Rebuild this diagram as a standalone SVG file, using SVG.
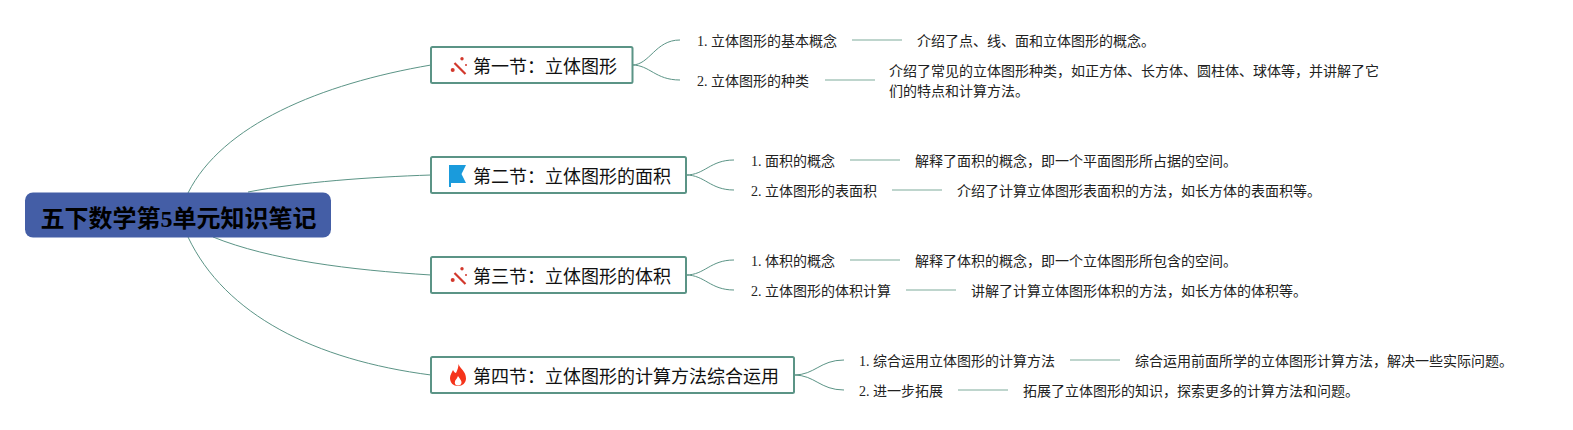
<svg xmlns="http://www.w3.org/2000/svg" width="1573" height="430" viewBox="0 0 1573 430">
<style>
text{font-family:"Liberation Serif","Noto Sans CJK SC",serif;fill:#000}
.t{font-size:18px;fill:#111}
.s{font-size:14px;fill:#222}
.box{fill:#fff;stroke:#5b9486;stroke-width:2}
.c{fill:none;stroke:#5b9486;stroke-width:1}
.l{fill:none;stroke:#a9c7bd;stroke-width:1.5}
.w{fill:#d2382c}
.wl{stroke:#d2382c;stroke-width:2.200;fill:none}
</style>
<defs>
<g id="wand"><path class="wl" d="M454.500 63L465.500 74"/><circle class="w" cx="452.700" cy="70" r="2"/><circle class="w" cx="462" cy="58.700" r="1.700"/><circle class="w" cx="466" cy="65" r="1"/></g>
</defs>
<rect width="1573" height="430" fill="#fff"/>
<g id="connectors">
<path class="c" d="M188 193C222 125 320 84 431 65"/>
<path class="c" d="M248 192C300 182 370 177 431 175"/>
<path class="c" d="M213 237C270 260 350 270 431 275"/>
<path class="c" d="M188 237C225 315 315 360 431 375"/>
<path class="c" d="M632 65C650 65 655 40 680 40"/>
<path class="c" d="M632 65C650 65 655 80 680 80"/>
<path class="c" d="M686 175C705 175 710 160 734 160"/>
<path class="c" d="M686 175C705 175 710 190 734 190"/>
<path class="c" d="M686 275C705 275 710 260 734 260"/>
<path class="c" d="M686 275C705 275 710 290 734 290"/>
<path class="c" d="M794 375C815 375 820 360 844 360"/>
<path class="c" d="M794 375C815 375 820 390 844 390"/>
<path class="l" d="M852 40H902M825 80H875M850 160H900M892 190H942M850 260H900M906 290H956M1070 360H1120M958 390H1008"/>
</g>
<g id="root"><rect x="25" y="192.500" width="306" height="45" rx="8" fill="#445ea6"/><text x="40.500" y="227" font-size="24" font-weight="700">五下数学第5单元知识笔记</text></g>
<g id="topic1"><rect class="box" x="431" y="47" width="201.500" height="36" rx="1.500"/>
<use href="#wand"/>
<text class="t" x="473" y="73">第一节：立体图形</text></g>
<g id="topic2"><rect class="box" x="431" y="157" width="255" height="36" rx="1.500"/>
<path d="M449 165H466L461.500 174L466 183H451V187H449Z" fill="#1a9bdc"/>
<text class="t" x="473" y="183">第二节：立体图形的面积</text></g>
<g id="topic3"><rect class="box" x="431" y="257" width="255" height="36" rx="1.500"/>
<use href="#wand" y="210"/>
<text class="t" x="473" y="283">第三节：立体图形的体积</text></g>
<g id="topic4"><rect class="box" x="431" y="357" width="363" height="36" rx="1.500"/>
<path d="M458.500 364C460 369 466 371 466 378.500C466 383 462.500 386 458 386C453.500 386 450 383 450 378C450 374.500 452 372.500 453 370C454 372 455 373 456 373C457.500 370 458.500 367 458.500 364Z" fill="#f5341b"/><path d="M458 376C460 379 461.500 380.500 461.500 382.500C461.500 384.500 460 385.500 458 385.500C456 385.500 454.800 384.500 454.800 382.500C454.800 380 457 379 458 376Z" fill="#fff"/>
<text class="t" x="473" y="383">第四节：立体图形的计算方法综合运用</text></g>
<g id="n1a"><text class="s" x="697" y="46">1. 立体图形的基本概念</text></g>
<g id="n1b"><text class="s" x="917" y="46">介绍了点、线、面和立体图形的概念。</text></g>
<g id="n2a"><text class="s" x="697" y="86">2. 立体图形的种类</text></g>
<g id="n2b"><text class="s" x="889" y="76">介绍了常见的立体图形种类，如正方体、长方体、圆柱体、球体等，并讲解了它</text><text class="s" x="889" y="96">们的特点和计算方法。</text></g>
<g id="n3a"><text class="s" x="751" y="166">1. 面积的概念</text></g>
<g id="n3b"><text class="s" x="915" y="166">解释了面积的概念，即一个平面图形所占据的空间。</text></g>
<g id="n4a"><text class="s" x="751" y="196">2. 立体图形的表面积</text></g>
<g id="n4b"><text class="s" x="957" y="196">介绍了计算立体图形表面积的方法，如长方体的表面积等。</text></g>
<g id="n5a"><text class="s" x="751" y="266">1. 体积的概念</text></g>
<g id="n5b"><text class="s" x="915" y="266">解释了体积的概念，即一个立体图形所包含的空间。</text></g>
<g id="n6a"><text class="s" x="751" y="296">2. 立体图形的体积计算</text></g>
<g id="n6b"><text class="s" x="971" y="296">讲解了计算立体图形体积的方法，如长方体的体积等。</text></g>
<g id="n7a"><text class="s" x="859" y="366">1. 综合运用立体图形的计算方法</text></g>
<g id="n7b"><text class="s" x="1135" y="366">综合运用前面所学的立体图形计算方法，解决一些实际问题。</text></g>
<g id="n8a"><text class="s" x="859" y="396">2. 进一步拓展</text></g>
<g id="n8b"><text class="s" x="1023" y="396">拓展了立体图形的知识，探索更多的计算方法和问题。</text></g>
</svg>
